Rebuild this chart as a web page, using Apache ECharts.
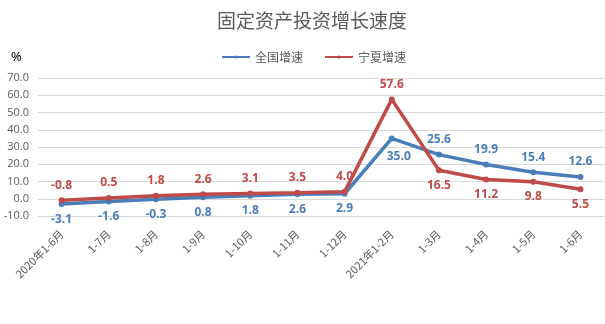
<!DOCTYPE html>
<html>
<head>
<meta charset="utf-8">
<script src="https://cdn.jsdelivr.net/npm/echarts@6/dist/echarts.min.js"></script>
<style>
  html, body { margin: 0; padding: 0; background: #fff; }
  #chart { width: 605px; height: 324px; }
</style>
</head>
<body>
<div id="chart"></div>
<script>
// Period labels (cumulative year-to-date)
const categories = ['2020年1-6月', '1-7月', '1-8月', '1-9月', '1-10月', '1-11月', '1-12月',
  '2021年1-2月', '1-3月', '1-4月', '1-5月', '1-6月'];
// Year-on-year growth of fixed asset investment, %
const nationalGrowth = [-3.1, -1.6, -0.3, 0.8, 1.8, 2.6, 2.9, 35.0, 25.6, 19.9, 15.4, 12.6];
const ningxiaGrowth = [-0.8, 0.5, 1.8, 2.6, 3.1, 3.5, 4.0, 57.6, 16.5, 11.2, 9.8, 5.5];
const yTicks = [-10, 0, 10, 20, 30, 40, 50, 60, 70];

const BLUE = '#4A7EBB';
const RED = '#BE4B48';
const GREY = '#595959';
// Lines cross after the Jan–Feb 2021 point, so labels swap sides there
const SWAP_AT = 8;

function withLabels(values, beforeSwap, afterSwap) {
  return values.map((v, i) => {
    const item = { value: v, label: { position: i < SWAP_AT ? beforeSwap : afterSwap } };
    // the national peak label sits just below-right of its marker, clear of the red line
    if (i === SWAP_AT - 1 && beforeSwap === 'bottom') {
      item.label = { position: [10, 15], align: 'center', verticalAlign: 'top' };
    }
    return item;
  });
}

const labelStyle = (color) => ({
  show: true,
  color: color,
  fontSize: 12,
  fontWeight: 'bold',
  fontFamily: '"Open Sans", sans-serif',
  distance: 6,
  formatter: (p) => p.value.toFixed(1)
});

const chart = echarts.init(document.getElementById('chart'), null, { renderer: 'canvas' });
chart.setOption({
  animation: false,
  title: {
    text: '固定资产投资增长速度',
    left: 212,
    top: 6,
    textStyle: { color: GREY, fontSize: 19, fontWeight: 'normal', fontFamily: '"Noto Sans CJK SC", sans-serif' }
  },
  legend: {
    top: 46,
    left: 216,
    itemWidth: 28,
    itemHeight: 4,
    itemGap: 21,
    textStyle: { color: GREY, fontSize: 12, fontFamily: '"Noto Sans CJK SC", sans-serif' },
    data: ['全国增速', '宁夏增速']
  },
  graphic: [{
    type: 'text',
    left: 11,
    top: 51,
    style: { text: '%', fill: '#000', fontSize: 13, fontFamily: '"Noto Sans", sans-serif' }
  }],
  grid: { left: 38, right: 1, top: 78, bottom: 108, containLabel: false },
  xAxis: {
    type: 'category',
    data: categories,
    boundaryGap: true,
    axisLine: { show: false },
    axisTick: { show: false },
    axisLabel: {
      interval: 0,
      rotate: 45,
      color: GREY,
      fontSize: 11,
      margin: 16,
      fontFamily: '"Noto Sans CJK SC", sans-serif'
    }
  },
  yAxis: {
    type: 'value',
    min: yTicks[0],
    max: yTicks[yTicks.length - 1],
    interval: 10,
    axisLine: { show: false },
    axisTick: { show: false },
    axisLabel: {
      color: GREY,
      fontSize: 11,
      margin: 9,
      fontFamily: '"Open Sans", sans-serif',
      formatter: (v) => v.toFixed(1)
    },
    splitLine: { lineStyle: { color: '#D9D9D9', width: 1 } }
  },
  series: [
    {
      name: '全国增速',
      type: 'line',
      data: withLabels(nationalGrowth, 'bottom', 'top'),
      symbol: 'circle',
      symbolSize: 6,
      lineStyle: { color: BLUE, width: 3.5 },
      itemStyle: { color: BLUE },
      label: labelStyle(BLUE),
      z: 2
    },
    {
      name: '宁夏增速',
      type: 'line',
      data: withLabels(ningxiaGrowth, 'top', 'bottom'),
      symbol: 'circle',
      symbolSize: 6,
      lineStyle: { color: RED, width: 3.5 },
      itemStyle: { color: RED },
      label: labelStyle(RED),
      z: 3
    }
  ]
});
</script>
</body>
</html>
